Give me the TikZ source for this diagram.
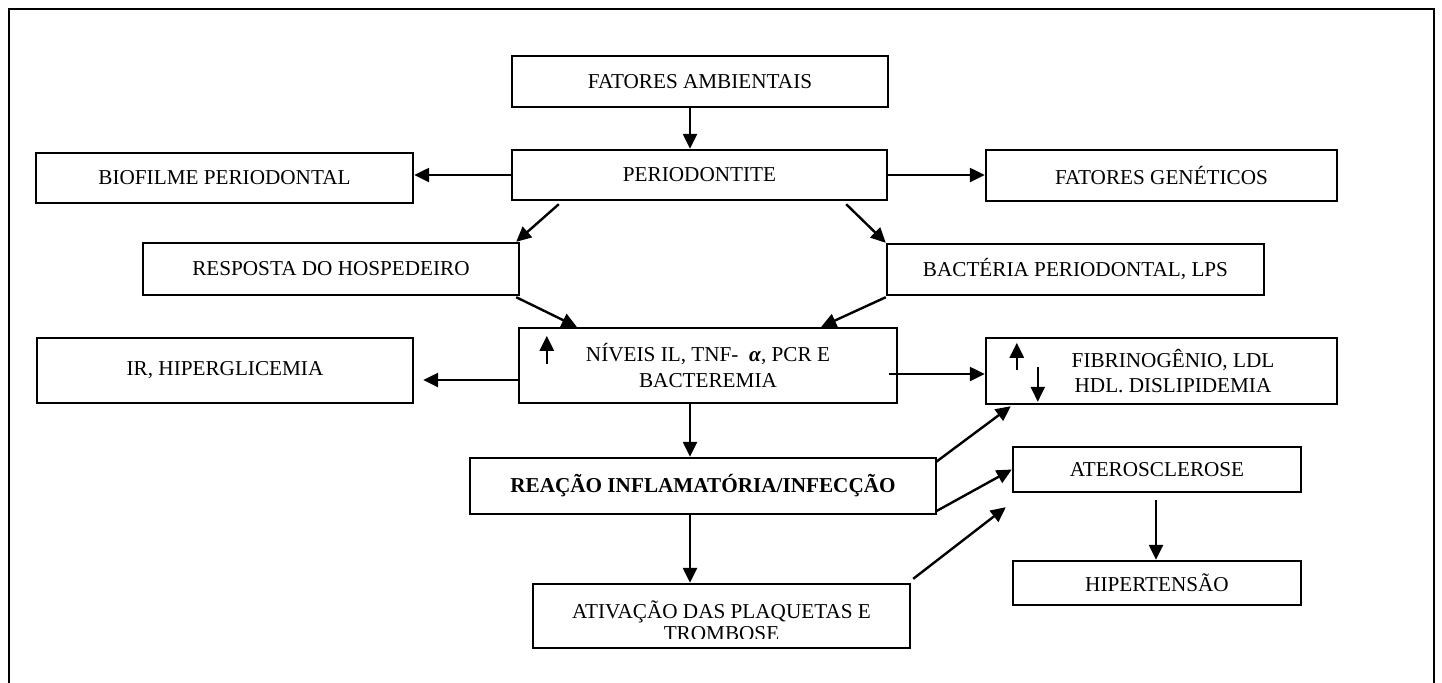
\documentclass[tikz,border=0pt]{standalone}
\usepackage{fontspec}
\setmainfont{Liberation Serif}
\usetikzlibrary{arrows.meta,calc}
\tikzset{
  box/.style={draw, line width=1.2pt, inner sep=2pt, align=center, font=\fontsize{10.6}{12.5}\selectfont},
  plain/.style={inner sep=0pt, align=center, font=\fontsize{10.6}{12.5}\selectfont},
  arr/.style={line width=1.2pt, -{Triangle[length=7.5pt,width=7pt]}},
  frameline/.style={line width=1.1pt}
}
\begin{document}
\begin{tikzpicture}[x=0.5pt,y=-0.5pt]
\useasboundingbox (0,0) rectangle (1442,682);
% outer frame
\coordinate (f1) at (9,690);
\coordinate (f2) at (9,9);
\coordinate (f3) at (1434,9);
\coordinate (f4) at (1434,690);
\draw[frameline] (f1) -- (f2) -- (f3) -- (f4);

% boxes
\node[box, minimum width=188pt, minimum height=25.5pt] (fa) at (700,81.5) {FATORES AMBIENTAIS};
\node[box, minimum width=187.5pt, minimum height=25pt] (per) at (699.5,175) {PERIODONTITE};
\node[box, minimum width=188.5pt, minimum height=25pt] (bio) at (224.5,178) {BIOFILME PERIODONTAL};
\node[box, minimum width=175.5pt, minimum height=25.5pt] (gen) at (1161.5,175.5) {FATORES GENÉTICOS};
\node[box, minimum width=188pt, minimum height=26pt] (resp) at (331,269) {RESPOSTA DO HOSPEDEIRO};
\node[box, minimum width=188.5pt, minimum height=25.5pt] (bac) at (1075.5,269.5) {BACTÉRIA PERIODONTAL, LPS};
\node[box, minimum width=189pt, minimum height=37.5pt, font=\fontsize{10.6}{13}\selectfont] (niv) at (708,365.5) {NÍVEIS IL, TNF-~~\textbf{\textit{α}}, PCR E\\BACTEREMIA};
\node[box, minimum width=188pt, minimum height=32.5pt] (ir) at (225,370.5) {IR, HIPERGLICEMIA};
\node[box, minimum width=175.5pt, minimum height=33pt] (fib) at (1161.5,371) {};
\node[plain] (fibt) at (1173,371) {FIBRINOGÊNIO, LDL\\HDL. DISLIPIDEMIA};
\node[box, minimum width=233pt, minimum height=28pt, font=\fontsize{10.6}{12.5}\selectfont\bfseries] (rea) at (703,486) {REAÇÃO INFLAMATÓRIA/INFECÇÃO};
\node[box, minimum width=188.5pt, minimum height=32pt] (ati) at (721.5,616) {};
\begin{scope}
  \clip (ati.north west) rectangle ($(ati.south east)+(0,-11)$);
  \node[plain, font=\fontsize{10.6}{11}\selectfont] (atit) at (721.5,621) {ATIVAÇÃO DAS PLAQUETAS E\\TROMBOSE};
\end{scope}
\node[box, minimum width=144pt, minimum height=22.5pt] (ate) at (1157,469.5) {ATEROSCLEROSE};
\node[box, minimum width=144pt, minimum height=22pt] (hip) at (1157,583) {HIPERTENSÃO};

% connectors
\coordinate (c1) at ($(fa.south)+(-10,0)$);
\draw[arr] (c1) -- (c1 |- per.north);
\draw[arr] (per.west) -- (per.west -| bio.east);
\draw[arr] (per.east) -- (per.east -| gen.west);
\draw[arr] ($(per.south west)+(48,3)$) -- ($(resp.north east)+(-4,0)$);
\draw[arr] ($(per.south east)+(-42,3)$) -- (bac.north west);
\draw[arr] ($(resp.south east)+(-4,1)$) -- ($(niv.north west)+(59,0)$);
\draw[arr] ($(bac.south west)+(0,1)$) -- ($(niv.north east)+(-77,0)$);
\coordinate (c2) at ($(niv.west)+(0,14.5)$);
\coordinate (c3) at ($(ir.east)+(9,9.5)$);
\draw[arr] (c2) -- (c3);
\coordinate (c4) at ($(niv.east)+(-9,8.5)$);
\draw[arr] (c4) -- (c4 -| fib.west);
\coordinate (c5) at ($(niv.south)+(-18,0)$);
\draw[arr] (c5) -- (c5 |- rea.north);
\coordinate (c6) at ($(rea.south)+(-13,0)$);
\draw[arr] (c6) -- (c6 |- ati.north);
\draw[arr] ($(rea.north east)+(-1,5)$) -- ($(fib.south west)+(26,1)$);
\draw[arr] ($(rea.south east)+(-1,-4)$) -- (ate.west);
\draw[arr] ($(ati.north east)+(2,-4)$) -- ($(ate.south west)+(-6,14)$);
\coordinate (c7) at ($(ate.south)+(-1,7)$);
\draw[arr] (c7) -- (c7 |- hip.north);

% small arrows inside boxes
\draw[arr] ($(niv.north west)+(29,37)$) -- ($(niv.north west)+(29,9)$);
\draw[arr] ($(fib.north west)+(32,33)$) -- ($(fib.north west)+(32,6)$);
\draw[arr] ($(fib.north west)+(53,30)$) -- ($(fib.north west)+(53,65)$);
\end{tikzpicture}
\end{document}
